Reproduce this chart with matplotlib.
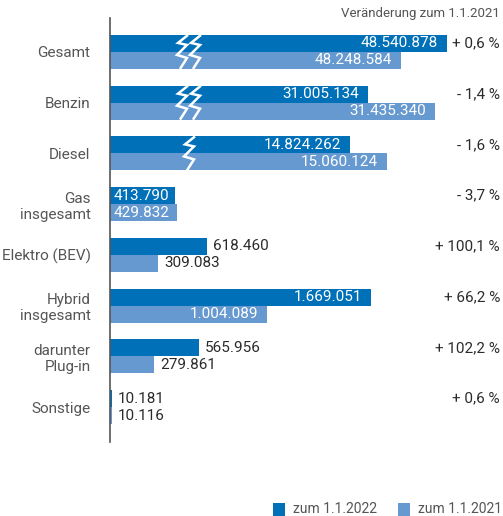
import matplotlib
matplotlib.use('Agg')
import matplotlib.pyplot as plt
from matplotlib.patches import Rectangle
import numpy as np

plt.rcParams['font.family'] = ['Roboto', 'DejaVu Sans']

# Data
categories = ['Gesamt', 'Benzin', 'Diesel', 'Gas\ninsgesamt', 'Elektro (BEV)',
              'Hybrid\ninsgesamt', 'darunter\nPlug-in', 'Sonstige']
v2022 = [48540878, 31005134, 14824262, 413790, 618460, 1669051, 565956, 10181]
v2021 = [48248584, 31435340, 15060124, 429832, 309083, 1004089, 279861, 10116]
change = ['+ 0,6 %', '- 1,4 %', '- 1,6 %', '- 3,7 %', '+ 100,1 %',
          '+ 66,2 %', '+ 102,2 %', '+ 0,6 %']
# amount left out by the axis break (0 = no break)
cut = [46387000, 29356000, 13290000, 0, 0, 0, 0, 0]
n_breaks = [2, 2, 1, 0, 0, 0, 0, 0]
label_pos = ['in', 'in', 'in', 'start', 'out', 'in', 'out', 'out']

DARK = '#0070b8'
LIGHT = '#6699d0'
TEXT = '#2b2b2b'
GREY = '#555555'

W, H = 503, 516
UNIT_PER_PX = 6390.0
fig = plt.figure(figsize=(W / 100, H / 100), dpi=100)
fig.patch.set_facecolor('white')

ax_left, ax_right, ax_top, ax_bot = 110, 500, 18, 442
ax = fig.add_axes([ax_left / W, 1 - ax_bot / H, (ax_right - ax_left) / W,
                   (ax_bot - ax_top) / H])
ax.set_xlim(0, (ax_right - ax_left) * UNIT_PER_PX)
row_px = 50.8
ax.set_ylim(7 + (ax_bot - 407) / row_px, -(52 - ax_top) / row_px)

y = np.arange(len(categories))
bh = 0.335
d22 = np.array(v2022) - np.array(cut)
d21 = np.array(v2021) - np.array(cut)
ax.barh(y - bh / 2, d22, height=bh, color=DARK, linewidth=0)
ax.barh(y + bh / 2, d21, height=bh, color=LIGHT, linewidth=0)


def fmt(v):
    return f'{v:,}'.replace(',', '.')


px = UNIT_PER_PX
for i in range(len(categories)):
    for val, w, yy in ((v2022[i], d22[i], y[i] - bh / 2),
                       (v2021[i], d21[i], y[i] + bh / 2)):
        if label_pos[i] == 'in':
            ax.text(w - 9 * px, yy, fmt(val), color='white', fontsize=11,
                    ha='right', va='center')
        elif label_pos[i] == 'start':
            ax.text(4 * px, yy, fmt(val), color='white', fontsize=11,
                    ha='left', va='center')
        else:
            ax.text(w + 6 * px, yy, fmt(val), color=TEXT, fontsize=11,
                    ha='left', va='center')
    ax.text(1.0, y[i] - bh / 2, change[i], color=TEXT, fontsize=11,
            ha='right', va='center', transform=ax.get_yaxis_transform())

# break marks (white zigzags)
zig = np.array([(13, 0), (3, 8), (12, 10), (2, 20), (12, 23), (5, 34)], float)
for i in range(len(categories)):
    for k in range(n_breaks[i]):
        x0 = 175 + 13 * k - ax_left if n_breaks[i] == 2 else 182 - ax_left
        xs = (x0 + zig[:, 0]) * px
        ys = y[i] - bh + zig[:, 1] / 34.0 * 2 * bh
        ax.plot(xs, ys, color='white', lw=1.8, solid_joinstyle='miter',
                solid_capstyle='butt')

ax.set_yticks(y)
ax.set_yticklabels(categories, fontsize=11, color=GREY)
ax.tick_params(axis='y', length=0, pad=14)
ax.set_xticks([])
for s in ['top', 'right', 'bottom']:
    ax.spines[s].set_visible(False)
ax.spines['left'].set_color('#555555')
ax.spines['left'].set_linewidth(1.2)

fig.text(500 / W, 1 - 13 / H, 'Veränderung zum 1.1.2021', fontsize=9.5,
         color=GREY, ha='right', va='center')

# legend
for sx, tx, lab, col in ((273, 293, 'zum 1.1.2022', DARK),
                         (398, 418, 'zum 1.1.2021', LIGHT)):
    fig.patches.append(Rectangle((sx / W, 1 - 516 / H), 12 / W, 13 / H,
                                 transform=fig.transFigure, color=col, lw=0))
    fig.text(tx / W, 1 - 509 / H, lab, fontsize=10, color=GREY,
             ha='left', va='center')

fig.savefig('out.png', dpi=100, facecolor='white')
